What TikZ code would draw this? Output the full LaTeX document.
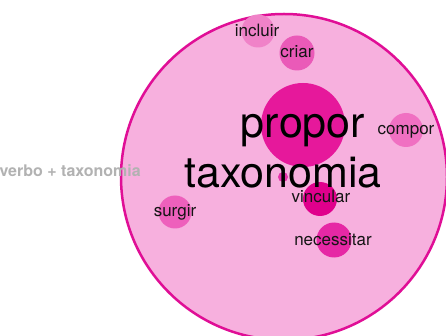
\documentclass[tikz,border=0pt]{standalone}
\usepackage{fontspec}
\setmainfont{TeX Gyre Heros}
\definecolor{bigfill}{RGB}{247,176,222}
\definecolor{bigline}{RGB}{224,14,150}
\definecolor{cpropor}{RGB}{230,24,155}
\definecolor{cincluir}{RGB}{240,130,200}
\definecolor{ccriar}{RGB}{234,90,184}
\definecolor{ccompor}{RGB}{240,112,194}
\definecolor{csurgir}{RGB}{238,96,188}
\definecolor{cvincular}{RGB}{224,0,140}
\definecolor{cnecess}{RGB}{230,40,165}
\definecolor{cdot}{RGB}{230,50,170}
\tikzset{
  bubble/.style={circle, inner sep=0pt, draw=none},
  smalllbl/.style={inner sep=0pt, anchor=base, text=black!92, font=\fontsize{17}{19}\selectfont},
  biglbl/.style={inner sep=0pt, anchor=base, text=black, font=\fontsize{43}{45}\selectfont},
  graylbl/.style={inner sep=0pt, anchor=base east, text=black!30, font=\fontsize{16}{18}\selectfont\bfseries}
}
\begin{document}
\begin{tikzpicture}[x=1pt,y=-1pt]
\useasboundingbox (0,0) rectangle (446,336);
\clip (0,0) rectangle (446,336);
\fill[white] (0,0) rectangle (446,336);
% main circle
\node[bubble, fill=bigfill, draw=bigline, line width=2.5pt, minimum size=326pt] (tax) at (284,177) {};
% bubbles
\node[bubble, fill=cpropor, minimum size=84pt] (propor) at (303,125) {};
\node[bubble, fill=cincluir, minimum size=33pt] (incluir) at (258,31) {};
\node[bubble, fill=ccriar, minimum size=35pt] (criar) at (297,53) {};
\node[bubble, fill=ccompor, minimum size=34pt] (compor) at (406,130) {};
\node[bubble, fill=csurgir, minimum size=33pt] (surgir) at (175,212) {};
\node[bubble, fill=cvincular, minimum size=34pt] (vincular) at (320,199) {};
\node[bubble, fill=cnecess, minimum size=35pt] (necessitar) at (334,240) {};
\node[bubble, fill=cdot, minimum size=10pt] (dot) at (283,177) {};
% labels
\node[graylbl] (leg) at (141,177) {verbo + taxonomia};
\node[smalllbl] (lincluir) at (257,37) {incluir};
\node[smalllbl] (lcriar) at (297,58) {criar};
\node[smalllbl] (lcompor) at (406,135) {compor};
\node[smalllbl] (lsurgir) at (175,217) {surgir};
\node[smalllbl] (lvincular) at (321,203) {vincular};
\node[smalllbl] (lnecessitar) at (333,245) {necessitar};
\node[biglbl] (lpropor) at (303,138) {propor};
\node[biglbl] (ltax) at (283,188) {taxonomia};
\end{tikzpicture}
\end{document}
